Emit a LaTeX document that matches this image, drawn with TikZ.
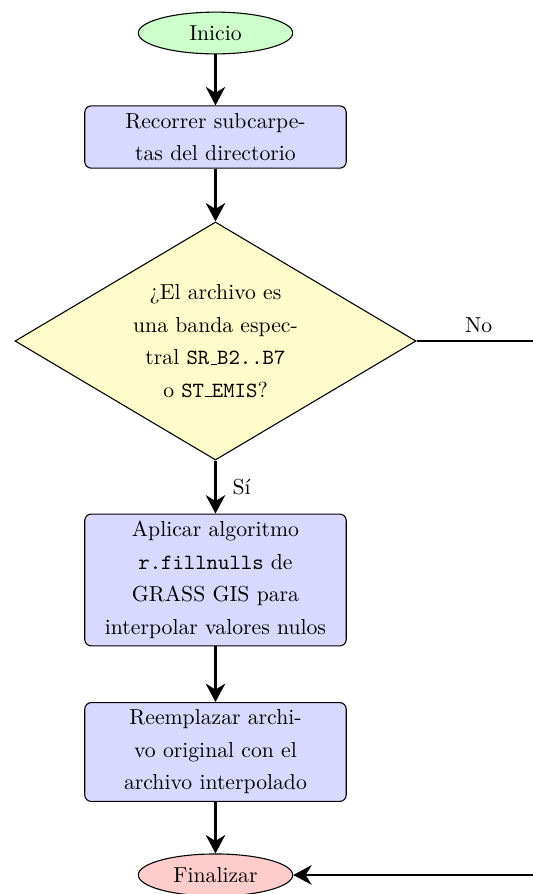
\documentclass[tikz,border=0pt]{standalone}
\usetikzlibrary{shapes.geometric,arrows.meta}
% underscore drawn as a short rule, as in the OT1 typewriter font
\newcommand\lowbar{\leavevmode\kern.06em\vbox{\hrule width.3em}}
\begin{document}
\begin{tikzpicture}[x=0.4608pt,y=-0.4608pt,
  every node/.style={font=\linespread{1.25}\selectfont},
  startstop/.style={ellipse, draw, line width=0.5pt, fill=green!20,
    minimum width=2.5cm},
  process/.style={rectangle, rounded corners=3pt, draw, line width=0.5pt,
    fill=blue!15, text width=4cm, align=center},
  decision/.style={diamond, draw, line width=0.5pt, fill=yellow!20,
    shape aspect=1.68, minimum width=184.8pt, minimum height=109.7pt,
    inner sep=0pt, align=center},
  flow/.style={line width=1pt, -{Stealth[length=8.5pt,width=9pt]}}]
\useasboundingbox (0,0) rectangle (533,894);

\node[startstop] (inicio) at (215.5,33) {Inicio};
\node[process] (recorrer) at (215.5,137) {Recorrer subcarpe-\\tas del directorio};
\node[decision] (cond) at (215.5,341)
  {¿El archivo es\\una banda espec-\\tral \texttt{SR\lowbar B2..B7}\\o \texttt{ST\lowbar EMIS}?};
\node[process] (aplicar) at (215.5,580)
  {Aplicar algoritmo\\\texttt{r.fillnulls} de\\GRASS GIS para\\interpolar valores nulos};
\node[process] (reemplazar) at (215.5,752)
  {Reemplazar archi-\\vo original con el\\archivo interpolado};
\node[startstop, fill=red!20] (fin) at (215.5,875) {Finalizar};

% turning point of the "No" branch, right of the page edge
\coordinate (vuelta) at (541,341);

\draw[flow] (inicio) -- (recorrer);
\draw[flow] (recorrer) -- (cond);
\draw[flow] (cond) -- node[right, xshift=4pt] {Sí} (aplicar);
\draw[flow] (aplicar) -- (reemplazar);
\draw[flow] (reemplazar) -- (fin);
\draw[flow] (cond.east) -- node[above] {No} (vuelta) |- (fin.east);
\end{tikzpicture}
\end{document}
